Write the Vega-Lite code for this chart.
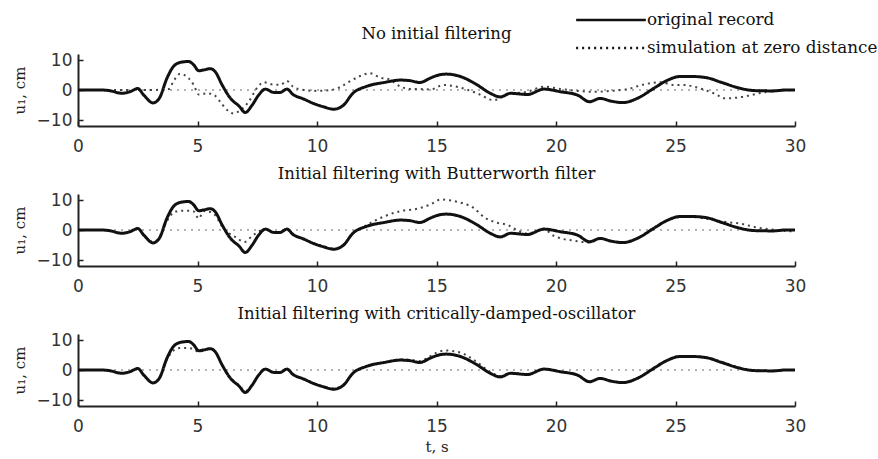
{
  "$schema": "https://vega.github.io/schema/vega-lite/v6.json",
  "background": "white",
  "padding": {"left": 12, "top": 7, "right": 0, "bottom": 3},
  "datasets": {
    "zero": [{"u": 0}],
    "original": [
      {"t": 0, "u": 0}, {"t": 0.5, "u": 0}, {"t": 1.0, "u": 0}, {"t": 1.3, "u": -0.2}, {"t": 1.85, "u": -1.1},
      {"t": 2.2, "u": -0.5}, {"t": 2.5, "u": 0.5}, {"t": 2.75, "u": -1.7}, {"t": 3.14, "u": -4.3}, {"t": 3.4, "u": -2.8},
      {"t": 3.72, "u": 3.9}, {"t": 4.0, "u": 7.9}, {"t": 4.28, "u": 9.2}, {"t": 4.63, "u": 9.5}, {"t": 4.84, "u": 8.4},
      {"t": 5.05, "u": 6.4}, {"t": 5.26, "u": 6.7}, {"t": 5.54, "u": 7.1}, {"t": 5.75, "u": 6.0}, {"t": 6.03, "u": 1.7},
      {"t": 6.38, "u": -2.8}, {"t": 6.73, "u": -5.3}, {"t": 7.0, "u": -7.5}, {"t": 7.28, "u": -5.1}, {"t": 7.56, "u": -1.7},
      {"t": 7.84, "u": 0.3}, {"t": 8.19, "u": -0.8}, {"t": 8.46, "u": -0.8}, {"t": 8.74, "u": 0.3}, {"t": 9.0, "u": -1.5},
      {"t": 9.44, "u": -3.0}, {"t": 9.86, "u": -4.5}, {"t": 10.27, "u": -5.6}, {"t": 10.7, "u": -6.4}, {"t": 11.1, "u": -5.1},
      {"t": 11.5, "u": -1.1}, {"t": 12.07, "u": 1.2}, {"t": 12.8, "u": 2.5}, {"t": 13.5, "u": 3.3}, {"t": 13.9, "u": 3.1},
      {"t": 14.3, "u": 2.5}, {"t": 14.75, "u": 4.0}, {"t": 15.0, "u": 4.8}, {"t": 15.4, "u": 5.3}, {"t": 16.0, "u": 4.5},
      {"t": 16.7, "u": 1.7}, {"t": 17.25, "u": -1.1}, {"t": 17.67, "u": -2.3}, {"t": 18.1, "u": -1.1}, {"t": 18.8, "u": -1.5},
      {"t": 19.5, "u": 0.3}, {"t": 20.2, "u": -0.6}, {"t": 20.9, "u": -1.7}, {"t": 21.4, "u": -3.9}, {"t": 21.85, "u": -2.8},
      {"t": 22.3, "u": -3.7}, {"t": 22.8, "u": -4.2}, {"t": 23.4, "u": -2.8}, {"t": 24.1, "u": 0.6}, {"t": 24.6, "u": 3.0},
      {"t": 25.2, "u": 4.5}, {"t": 25.7, "u": 4.5}, {"t": 26.3, "u": 4.1}, {"t": 26.9, "u": 2.6}, {"t": 27.6, "u": 0.8},
      {"t": 28.3, "u": -0.2}, {"t": 29.1, "u": -0.3}, {"t": 29.6, "u": 0}, {"t": 30, "u": 0}
    ],
    "noFilter": [
      {"t": 0, "u": 0}, {"t": 1.0, "u": 0}, {"t": 2.0, "u": 0}, {"t": 3.0, "u": 0}, {"t": 3.8, "u": 0.3},
      {"t": 4.0, "u": 3.0}, {"t": 4.28, "u": 5.4}, {"t": 4.63, "u": 3.9}, {"t": 4.84, "u": 1.7}, {"t": 5.05, "u": -1.5},
      {"t": 5.4, "u": -1.1}, {"t": 5.7, "u": -1.7}, {"t": 5.95, "u": -3.9}, {"t": 6.24, "u": -6.7}, {"t": 6.5, "u": -7.8},
      {"t": 6.8, "u": -6.7}, {"t": 7.14, "u": -3.9}, {"t": 7.5, "u": 0.8}, {"t": 7.77, "u": 2.6}, {"t": 8.1, "u": 1.9},
      {"t": 8.46, "u": 1.7}, {"t": 8.74, "u": 3.0}, {"t": 9.0, "u": 1.1}, {"t": 9.44, "u": 0}, {"t": 10.0, "u": -0.3},
      {"t": 10.6, "u": 0}, {"t": 11.0, "u": 1.1}, {"t": 11.4, "u": 3.0}, {"t": 11.85, "u": 4.8}, {"t": 12.2, "u": 5.6},
      {"t": 12.65, "u": 4.1}, {"t": 13.0, "u": 3.6}, {"t": 13.5, "u": 1.1}, {"t": 13.9, "u": 0.3}, {"t": 14.3, "u": 0.3},
      {"t": 14.75, "u": 0.2}, {"t": 15.3, "u": 1.7}, {"t": 16.0, "u": 0.8}, {"t": 16.7, "u": -1.1}, {"t": 17.4, "u": -3.4},
      {"t": 17.95, "u": -1.5}, {"t": 18.8, "u": -0.6}, {"t": 19.5, "u": 1.1}, {"t": 20.2, "u": 0.3}, {"t": 20.9, "u": -0.3},
      {"t": 21.6, "u": -0.6}, {"t": 22.3, "u": -0.3}, {"t": 23.0, "u": 0.3}, {"t": 23.7, "u": 1.9}, {"t": 24.4, "u": 2.6},
      {"t": 24.9, "u": 1.7}, {"t": 25.3, "u": 1.7}, {"t": 26.0, "u": 0.6}, {"t": 26.6, "u": -1.1}, {"t": 27.1, "u": -2.8},
      {"t": 27.8, "u": -2.3}, {"t": 28.5, "u": -1.1}, {"t": 29.2, "u": -0.3}, {"t": 30, "u": 0}
    ],
    "butterworth": [
      {"t": 0, "u": 0}, {"t": 1.0, "u": 0}, {"t": 1.85, "u": -1.0}, {"t": 2.5, "u": 0.4}, {"t": 2.75, "u": -1.5},
      {"t": 3.14, "u": -4.0}, {"t": 3.4, "u": -2.6}, {"t": 3.72, "u": 3.0}, {"t": 4.0, "u": 5.8}, {"t": 4.28, "u": 6.4},
      {"t": 4.63, "u": 6.4}, {"t": 4.84, "u": 6.2}, {"t": 5.05, "u": 3.8}, {"t": 5.26, "u": 6.3}, {"t": 5.54, "u": 6.0},
      {"t": 5.75, "u": 4.8}, {"t": 6.03, "u": 1.2}, {"t": 6.3, "u": -1.0}, {"t": 6.6, "u": -2.4}, {"t": 6.96, "u": -4.0},
      {"t": 7.3, "u": -1.9}, {"t": 7.56, "u": -0.5}, {"t": 7.84, "u": 0.3}, {"t": 8.19, "u": -0.8}, {"t": 8.46, "u": -0.6},
      {"t": 8.74, "u": 0.3}, {"t": 9.0, "u": -1.3}, {"t": 9.44, "u": -3.0}, {"t": 9.86, "u": -4.4}, {"t": 10.27, "u": -5.4},
      {"t": 10.7, "u": -6.2}, {"t": 11.1, "u": -5.0}, {"t": 11.5, "u": -1.2}, {"t": 12.07, "u": 1.6}, {"t": 12.8, "u": 4.5},
      {"t": 13.5, "u": 6.3}, {"t": 14.2, "u": 7.1}, {"t": 14.75, "u": 8.5}, {"t": 15.2, "u": 10.2}, {"t": 15.6, "u": 9.8},
      {"t": 16.1, "u": 8.9}, {"t": 16.55, "u": 7.4}, {"t": 17.0, "u": 4.2}, {"t": 17.5, "u": 2.5}, {"t": 18.0, "u": 1.6},
      {"t": 18.4, "u": -0.2}, {"t": 18.8, "u": -1.2}, {"t": 19.5, "u": 0.2}, {"t": 19.9, "u": -1.9}, {"t": 20.3, "u": -3.0},
      {"t": 20.7, "u": -3.5}, {"t": 21.1, "u": -4.0}, {"t": 21.4, "u": -4.2}, {"t": 21.85, "u": -3.0}, {"t": 22.3, "u": -3.7},
      {"t": 22.8, "u": -4.0}, {"t": 23.4, "u": -2.7}, {"t": 24.1, "u": 0.8}, {"t": 24.6, "u": 3.0}, {"t": 25.2, "u": 4.3},
      {"t": 25.7, "u": 4.3}, {"t": 26.4, "u": 3.6}, {"t": 27.1, "u": 2.7}, {"t": 27.8, "u": 2.0}, {"t": 28.3, "u": 1.0},
      {"t": 29.1, "u": 0.1}, {"t": 29.6, "u": -0.3}, {"t": 30, "u": -0.5}
    ],
    "oscillator": [
      {"t": 0, "u": 0}, {"t": 1.0, "u": 0}, {"t": 1.85, "u": -1.0}, {"t": 2.5, "u": 0.4}, {"t": 2.75, "u": -1.6},
      {"t": 3.14, "u": -4.2}, {"t": 3.4, "u": -2.8}, {"t": 3.72, "u": 3.5}, {"t": 4.0, "u": 6.5}, {"t": 4.28, "u": 7.3},
      {"t": 4.63, "u": 7.3}, {"t": 4.84, "u": 7.0}, {"t": 5.05, "u": 6.0}, {"t": 5.26, "u": 6.5}, {"t": 5.54, "u": 7.0},
      {"t": 5.75, "u": 5.9}, {"t": 6.03, "u": 1.7}, {"t": 6.38, "u": -2.6}, {"t": 6.73, "u": -5.0}, {"t": 7.0, "u": -7.0},
      {"t": 7.28, "u": -5.0}, {"t": 7.56, "u": -1.6}, {"t": 7.84, "u": 0.3}, {"t": 8.19, "u": -0.7}, {"t": 8.46, "u": -0.7},
      {"t": 8.74, "u": 0.3}, {"t": 9.0, "u": -1.4}, {"t": 9.44, "u": -2.9}, {"t": 9.86, "u": -4.4}, {"t": 10.27, "u": -5.5},
      {"t": 10.7, "u": -6.2}, {"t": 11.1, "u": -5.0}, {"t": 11.5, "u": -1.0}, {"t": 12.07, "u": 1.3}, {"t": 12.8, "u": 2.6},
      {"t": 13.5, "u": 3.5}, {"t": 13.9, "u": 3.4}, {"t": 14.3, "u": 3.0}, {"t": 14.75, "u": 4.6}, {"t": 15.0, "u": 5.8},
      {"t": 15.4, "u": 6.5}, {"t": 16.0, "u": 5.8}, {"t": 16.7, "u": 2.6}, {"t": 17.25, "u": -0.6}, {"t": 17.67, "u": -2.0},
      {"t": 18.1, "u": -1.1}, {"t": 18.8, "u": -1.4}, {"t": 19.5, "u": 0.3}, {"t": 20.2, "u": -0.6}, {"t": 20.9, "u": -1.7},
      {"t": 21.4, "u": -3.8}, {"t": 21.85, "u": -2.8}, {"t": 22.3, "u": -3.6}, {"t": 22.8, "u": -4.1}, {"t": 23.4, "u": -2.7},
      {"t": 24.1, "u": 0.8}, {"t": 24.6, "u": 3.1}, {"t": 25.2, "u": 4.6}, {"t": 25.7, "u": 4.6}, {"t": 26.3, "u": 4.2},
      {"t": 26.9, "u": 2.8}, {"t": 27.6, "u": 1.0}, {"t": 28.3, "u": -0.1}, {"t": 29.1, "u": -0.3}, {"t": 29.6, "u": 0},
      {"t": 30, "u": 0}
    ]
  },
  "spacing": 11,
  "vconcat": [
    {
      "title": "No initial filtering",
      "width": 717,
      "height": 72,
      "layer": [
        {
          "data": {"name": "zero"},
          "mark": {"type": "rule", "strokeDash": [2, 5], "color": "#9a9a9a", "strokeWidth": 1.5},
          "encoding": {"y": {"field": "u", "type": "quantitative", "scale": {"domain": [-12, 12], "nice": false}, "axis": {"title": "u₁, cm", "tickCount": 3, "labelOverlap": false}}}
        },
        {
          "data": {"name": "noFilter"},
          "mark": {"type": "line", "color": "#444", "strokeWidth": 2, "interpolate": "monotone"},
          "encoding": {
            "x": {"field": "t", "type": "quantitative", "scale": {"domain": [0, 30], "nice": false}, "axis": {"title": null, "values": [0, 5, 10, 15, 20, 25, 30], "labelOverlap": false}},
            "y": {"field": "u", "type": "quantitative"},
            "strokeDash": {"datum": "simulation at zero distance", "scale": {"domain": ["original record", "simulation at zero distance"], "range": [[1, 0], [2, 4]]}}
          }
        },
        {
          "data": {"name": "original"},
          "mark": {"type": "line", "color": "#111", "strokeWidth": 3, "interpolate": "monotone"},
          "encoding": {
            "x": {"field": "t", "type": "quantitative"},
            "y": {"field": "u", "type": "quantitative"},
            "strokeDash": {"datum": "original record"}
          }
        }
      ]
    },
    {
      "title": "Initial filtering with Butterworth filter",
      "width": 717,
      "height": 72,
      "layer": [
        {
          "data": {"name": "zero"},
          "mark": {"type": "rule", "strokeDash": [2, 5], "color": "#9a9a9a", "strokeWidth": 1.5},
          "encoding": {"y": {"field": "u", "type": "quantitative", "scale": {"domain": [-12, 12], "nice": false}, "axis": {"title": "u₁, cm", "tickCount": 3, "labelOverlap": false}}}
        },
        {
          "data": {"name": "butterworth"},
          "mark": {"type": "line", "color": "#444", "strokeWidth": 2, "interpolate": "monotone"},
          "encoding": {
            "x": {"field": "t", "type": "quantitative", "scale": {"domain": [0, 30], "nice": false}, "axis": {"title": null, "values": [0, 5, 10, 15, 20, 25, 30], "labelOverlap": false}},
            "y": {"field": "u", "type": "quantitative"},
            "strokeDash": {"datum": "simulation at zero distance"}
          }
        },
        {
          "data": {"name": "original"},
          "mark": {"type": "line", "color": "#111", "strokeWidth": 3, "interpolate": "monotone"},
          "encoding": {
            "x": {"field": "t", "type": "quantitative"},
            "y": {"field": "u", "type": "quantitative"},
            "strokeDash": {"datum": "original record"}
          }
        }
      ]
    },
    {
      "title": "Initial filtering with critically-damped-oscillator",
      "width": 717,
      "height": 72,
      "layer": [
        {
          "data": {"name": "zero"},
          "mark": {"type": "rule", "strokeDash": [2, 5], "color": "#9a9a9a", "strokeWidth": 1.5},
          "encoding": {"y": {"field": "u", "type": "quantitative", "scale": {"domain": [-12, 12], "nice": false}, "axis": {"title": "u₁, cm", "tickCount": 3, "labelOverlap": false}}}
        },
        {
          "data": {"name": "oscillator"},
          "mark": {"type": "line", "color": "#444", "strokeWidth": 2, "interpolate": "monotone"},
          "encoding": {
            "x": {"field": "t", "type": "quantitative", "scale": {"domain": [0, 30], "nice": false}, "axis": {"title": "t, s", "values": [0, 5, 10, 15, 20, 25, 30], "labelOverlap": false}},
            "y": {"field": "u", "type": "quantitative"},
            "strokeDash": {"datum": "simulation at zero distance"}
          }
        },
        {
          "data": {"name": "original"},
          "mark": {"type": "line", "color": "#111", "strokeWidth": 3, "interpolate": "monotone"},
          "encoding": {
            "x": {"field": "t", "type": "quantitative"},
            "y": {"field": "u", "type": "quantitative"},
            "strokeDash": {"datum": "original record"}
          }
        }
      ]
    }
  ],
  "resolve": {"scale": {"strokeDash": "shared"}, "legend": {"strokeDash": "shared"}},
  "config": {
    "view": {"stroke": null},
    "axis": {
      "grid": false,
      "domainColor": "#222",
      "domainWidth": 2,
      "tickColor": "#222",
      "tickWidth": 1.5,
      "tickSize": -5,
      "labelFont": "DejaVu Sans",
      "labelFontSize": 17,
      "labelColor": "#333",
      "labelFlush": false,
      "titleFont": "DejaVu Serif",
      "titleFontSize": 15,
      "titleFontWeight": "normal",
      "titleColor": "#222"
    },
    "axisX": {"labelPadding": 17, "titlePadding": 5},
    "axisY": {"labelPadding": 11, "titlePadding": 9},
    "title": {"font": "DejaVu Serif", "fontSize": 16.5, "fontWeight": "normal", "color": "#111", "offset": 9},
    "legend": {
      "orient": "none",
      "legendX": 520,
      "legendY": -47,
      "title": null,
      "symbolType": "M-3,0H3",
      "symbolSize": 540,
      "symbolStrokeColor": "#111",
      "symbolStrokeWidth": 2.5,
      "labelFont": "DejaVu Serif",
      "labelFontSize": 16.8,
      "labelColor": "#111",
      "labelLimit": 400,
      "labelOffset": 23,
      "rowPadding": 6
    }
  }
}
